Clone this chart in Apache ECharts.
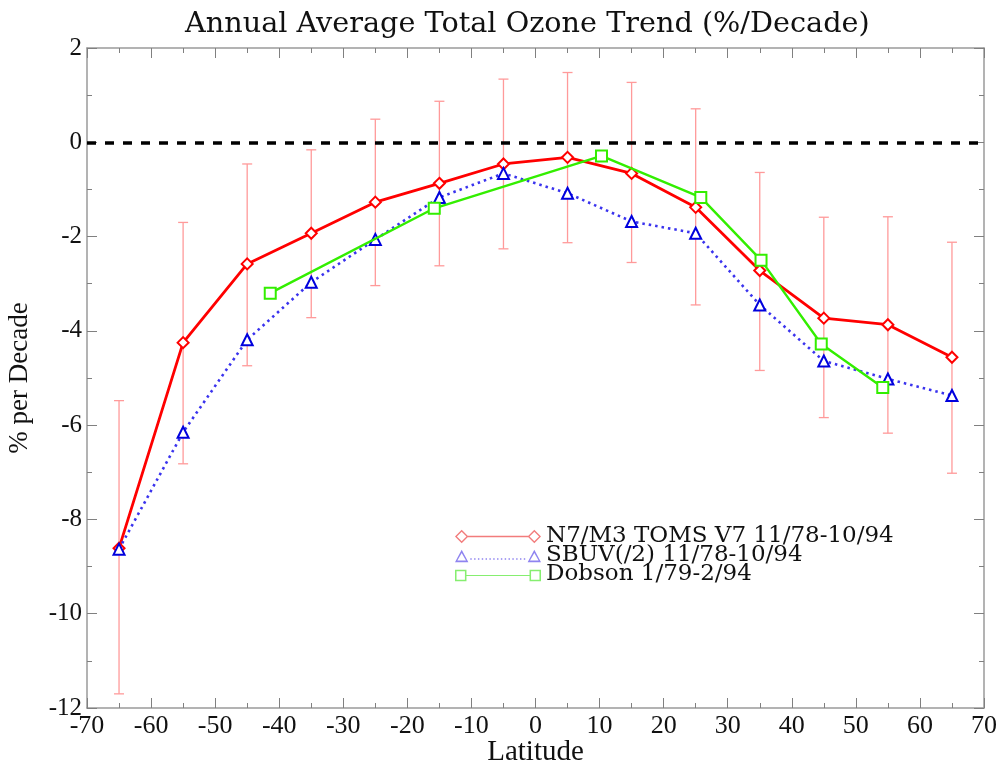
<!DOCTYPE html>
<html>
<head>
<meta charset="utf-8">
<script src="https://cdn.jsdelivr.net/npm/echarts@6/dist/echarts.min.js"></script>
<style>html,body{margin:0;padding:0;background:#fff}#c{width:1003px;height:764px}</style>
</head>
<body>
<div id="c"></div>
<script>
// ---- data ----
var latitudes = [-65,-55,-45,-35,-25,-15,-5,5,15,25,35,45,55,65];
var tomsTrend = [-8.61,-4.25,-2.58,-1.93,-1.27,-0.87,-0.46,-0.32,-0.66,-1.38,-2.72,-3.73,-3.87,-4.56];
var tomsErrHigh = [-5.48,-1.70,-0.46,-0.16,0.49,0.87,1.34,1.48,1.27,0.71,-0.64,-1.59,-1.58,-2.12];
var tomsErrLow = [-11.70,-6.82,-4.74,-3.72,-3.04,-2.62,-2.26,-2.13,-2.55,-3.45,-4.84,-5.84,-6.17,-7.02];
var sbuvTrend = [-8.63,-6.15,-4.19,-2.97,-2.06,-1.17,-0.66,-1.08,-1.68,-1.93,-3.45,-4.64,-5.02,-5.37];
var dobsonLat = [-41.4,-15.8,10.3,25.8,35.2,44.6,54.2];
var dobsonTrend = [-3.20,-1.40,-0.29,-1.17,-2.50,-4.28,-5.20];
var seriesNames = ['N7/M3 TOMS V7 11/78-10/94','SBUV(/2) 11/78-10/94','Dobson 1/79-2/94'];
var titleText = 'Annual Average Total Ozone Trend (%/Decade)';
var xAxisTitle = 'Latitude';
var yAxisTitle = '% per Decade';

function zip(a,b){return a.map(function(v,i){return [v,b[i]];});}

// legend icon paths (style only)
var diamondIcon = 'path://M7 0L14 7L7 14L0 7ZM7 2L2 7L7 12L12 7Z M13 6.3L77 6.3L77 7.7L13 7.7Z M83 0L90 7L83 14L76 7ZM83 2L78 7L83 12L88 7Z';
var dots = '';
for (var dx = 16; dx < 74; dx += 4) { dots += 'M'+dx+' 10L'+(dx+1.5)+' 10L'+(dx+1.5)+' 11.5L'+dx+' 11.5Z'; }
var triIcon = 'path://M7 1L14 14L0 14ZM7 4.5L2.5 12.3L11.5 12.3Z' + dots + 'M83 1L90 14L76 14ZM83 4.5L78.5 12.3L87.5 12.3Z M0 0L0.01 0Z';
var sqIcon = 'path://M0 2L12 2L12 14L0 14ZM1.6 3.6L1.6 12.4L10.4 12.4L10.4 3.6Z M12 7.4L78 7.4L78 8.6L12 8.6Z M78 2L90 2L90 14L78 14ZM79.6 3.6L79.6 12.4L88.4 12.4L88.4 3.6Z M0 0L0.01 0Z';

var serif = '"Liberation Serif","DejaVu Serif",serif';
var wideSerif = '"DejaVu Serif","Liberation Serif",serif';
var axisGrey = '#9a9a9a';
var tickGrey = '#808080';

var chart = echarts.init(document.getElementById('c'));
chart.setOption({
  animation: false,
  backgroundColor: '#fff',
  title: {
    text: titleText, left: 180, top: 5,
    textStyle: {fontFamily: wideSerif, fontSize: 28.7, fontWeight: 'normal', color: '#111'}
  },
  legend: {
    orient: 'vertical', left: 455, top: 525, padding: 0,
    itemWidth: 86, itemHeight: 14, itemGap: -4,
    textStyle: {fontFamily: wideSerif, fontSize: 23, color: '#111', padding: [0,0,0,0], lineHeight: 18.5},
    data: [
      {name: seriesNames[0], icon: diamondIcon, itemStyle: {color: '#f27c7c', borderWidth: 0}},
      {name: seriesNames[1], icon: triIcon, itemStyle: {color: '#8f84f0', borderWidth: 0}},
      {name: seriesNames[2], icon: sqIcon, itemStyle: {color: '#86ee70', borderWidth: 0}}
    ]
  },
  grid: {left: 87, right: 19, top: 48, bottom: 56, outerBoundsMode: 'none', containLabel: false},
  xAxis: [{
    type: 'value', min: -70, max: 70, interval: 10,
    name: xAxisTitle, nameLocation: 'middle', nameGap: 30, nameMoveOverlap: false,
    nameTextStyle: {fontFamily: serif, fontSize: 29, color: '#111'},
    axisLine: {onZero: false, lineStyle: {color: axisGrey, width: 1.5}},
    axisTick: {inside: true, length: 10, lineStyle: {color: tickGrey}},
    minorTick: {show: true, splitNumber: 2, length: 5, lineStyle: {color: tickGrey}},
    axisLabel: {fontFamily: serif, fontSize: 26, color: '#111', margin: 5},
    splitLine: {show: false}
  }, {
    type: 'value', min: -70, max: 70, interval: 10, position: 'top',
    axisLine: {onZero: false, lineStyle: {color: axisGrey, width: 1.5}},
    axisTick: {inside: true, length: 10, lineStyle: {color: tickGrey}},
    minorTick: {show: true, splitNumber: 2, length: 5, lineStyle: {color: tickGrey}},
    axisLabel: {show: false}, splitLine: {show: false}
  }],
  yAxis: [{
    type: 'value', min: -12, max: 2, interval: 2,
    name: yAxisTitle, nameLocation: 'middle', nameGap: 54, nameMoveOverlap: false,
    nameTextStyle: {fontFamily: serif, fontSize: 27, color: '#111'},
    axisLine: {show: true, onZero: false, lineStyle: {color: axisGrey, width: 1.5}},
    axisTick: {show: true, inside: true, length: 10, lineStyle: {color: tickGrey}},
    minorTick: {show: true, splitNumber: 2, length: 5, lineStyle: {color: tickGrey}},
    axisLabel: {fontFamily: serif, fontSize: 25, color: '#111', margin: 5},
    splitLine: {show: false}
  }, {
    type: 'value', min: -12, max: 2, interval: 2, position: 'right',
    axisLine: {show: true, onZero: false, lineStyle: {color: axisGrey, width: 1.5}},
    axisTick: {show: true, inside: true, length: 10, lineStyle: {color: tickGrey}},
    minorTick: {show: true, splitNumber: 2, length: 5, lineStyle: {color: tickGrey}},
    axisLabel: {show: false}, splitLine: {show: false}
  }],
  series: [
    {
      type: 'custom', name: 'errorbars', silent: true, z: 1,
      data: latitudes.map(function(l,i){return [l, tomsErrLow[i], tomsErrHigh[i]];}),
      encode: {x: 0, y: [1,2]},
      renderItem: function(params, api){
        var lo = api.coord([api.value(0), api.value(1)]);
        var hi = api.coord([api.value(0), api.value(2)]);
        var w = 5;
        var st = {stroke: '#ff9a9a', lineWidth: 1.3};
        return {type: 'group', children: [
          {type: 'line', shape: {x1: lo[0], y1: lo[1], x2: hi[0], y2: hi[1]}, style: st},
          {type: 'line', shape: {x1: lo[0]-w, y1: lo[1], x2: lo[0]+w, y2: lo[1]}, style: st},
          {type: 'line', shape: {x1: hi[0]-w, y1: hi[1], x2: hi[0]+w, y2: hi[1]}, style: st}
        ]};
      }
    },
    {
      type: 'line', name: seriesNames[0], z: 3,
      data: zip(latitudes, tomsTrend),
      symbol: 'diamond', symbolSize: 11,
      itemStyle: {color: '#fff', borderColor: '#ff0000', borderWidth: 2},
      lineStyle: {color: '#ff0000', width: 2.8},
      markLine: {
        silent: true, symbol: 'none', label: {show: false},
        lineStyle: {color: '#000', type: [9, 9], width: 3.6},
        data: [{yAxis: 0}]
      }
    },
    {
      type: 'line', name: seriesNames[1], z: 4,
      data: zip(latitudes, sbuvTrend),
      symbol: 'triangle', symbolSize: 11,
      itemStyle: {color: '#fff', borderColor: '#0000dd', borderWidth: 2},
      lineStyle: {color: '#3a33ee', width: 2.6, type: [2.5, 4]}
    },
    {
      type: 'line', name: seriesNames[2], z: 5,
      data: zip(dobsonLat, dobsonTrend),
      symbol: 'rect', symbolSize: 11,
      itemStyle: {color: '#fff', borderColor: '#33ee00', borderWidth: 2},
      lineStyle: {color: '#33ee00', width: 2.4}
    }
  ]
});
</script>
</body>
</html>
